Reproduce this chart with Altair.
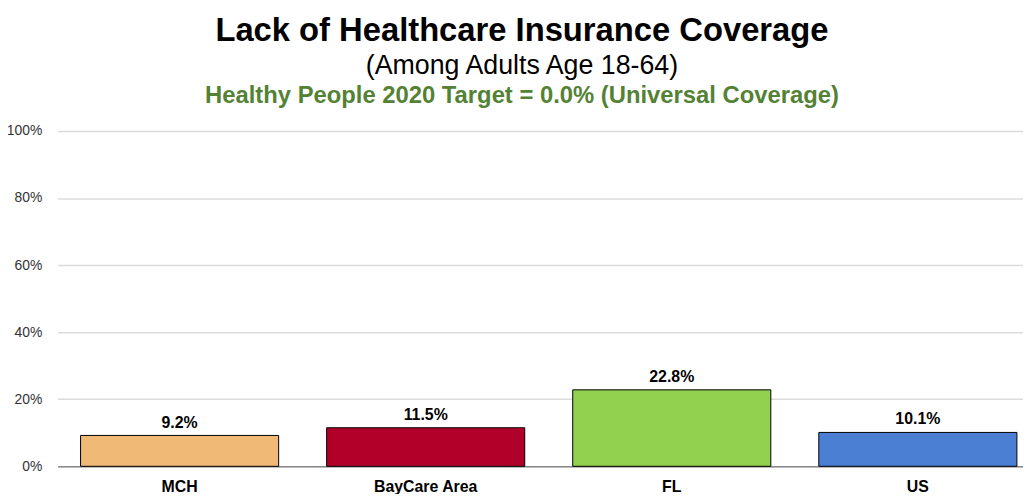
import altair as alt
import pandas as pd

categories = ["MCH", "BayCare Area", "FL", "US"]
values = [9.2, 11.5, 22.8, 10.1]
colors = ["#F0B976", "#B0002A", "#92D050", "#4A7FD4"]
y_ticks = [0, 20, 40, 60, 80, 100]

title_text = "Lack of Healthcare Insurance Coverage"
subtitle_text = "(Among Adults Age 18-64)"
target_text = "Healthy People 2020 Target = 0.0% (Universal Coverage)"

df = pd.DataFrame({"cat": categories, "val": values,
                   "lbl": [f"{v:.1f}%" for v in values]})

FONT = "Liberation Sans, Arial"

x = alt.X("cat:N", sort=categories, title=None,
          scale=alt.Scale(paddingInner=0.195, paddingOuter=0.059, align=0.79),
          axis=alt.Axis(labelAngle=0, labelFont=FONT, labelFontSize=16,
                        labelFontWeight="bold", labelColor="#000",
                        labelPadding=12, ticks=False, domain=True, grid=False,
                        domainColor="#888", domainWidth=1.5))
y = alt.Y("val:Q", title=None,
          scale=alt.Scale(domain=[0, 100], nice=False),
          axis=alt.Axis(values=y_ticks, labelExpr="datum.value + '%'",
                        labelFont=FONT, labelFontSize=14, labelColor="#333",
                        labelPadding=16, ticks=False, domain=False,
                        gridColor="#dcdcdc", gridWidth=1.5))

bars = alt.Chart(df).mark_bar(stroke="#000", strokeWidth=1).encode(
    x=x, y=y,
    color=alt.Color("cat:N", scale=alt.Scale(domain=categories, range=colors),
                    legend=None))

labels = alt.Chart(df).mark_text(dy=-8, baseline="alphabetic", font=FONT,
                                 fontSize=16, fontWeight="bold",
                                 color="#000").encode(
    x=alt.X("cat:N", sort=categories), y=alt.Y("val:Q"), text="lbl:N")

def header(txt, y, size, weight, color):
    return alt.Chart(df.head(1)).mark_text(
        font=FONT, fontSize=size, fontWeight=weight, color=color,
        baseline="alphabetic", align="center").encode(
        x=alt.value(468), y=alt.value(y), text=alt.value(txt))

t1 = header(title_text, -91, 33, "bold", "#000")
t2 = header(subtitle_text, -57, 27, "normal", "#000")
t3 = header(target_text, -28, 24, "bold", "#548235")

chart = alt.layer(bars, labels, t1, t2, t3).properties(
    width=973, height=338,
    padding={"left": 50, "top": 122, "right": 0, "bottom": 26},
    autosize=alt.AutoSizeParams(type="none"),
    background="white",
).configure_view(stroke=None)

chart.save("out.html", embed_options={"renderer": "svg", "actions": False})
